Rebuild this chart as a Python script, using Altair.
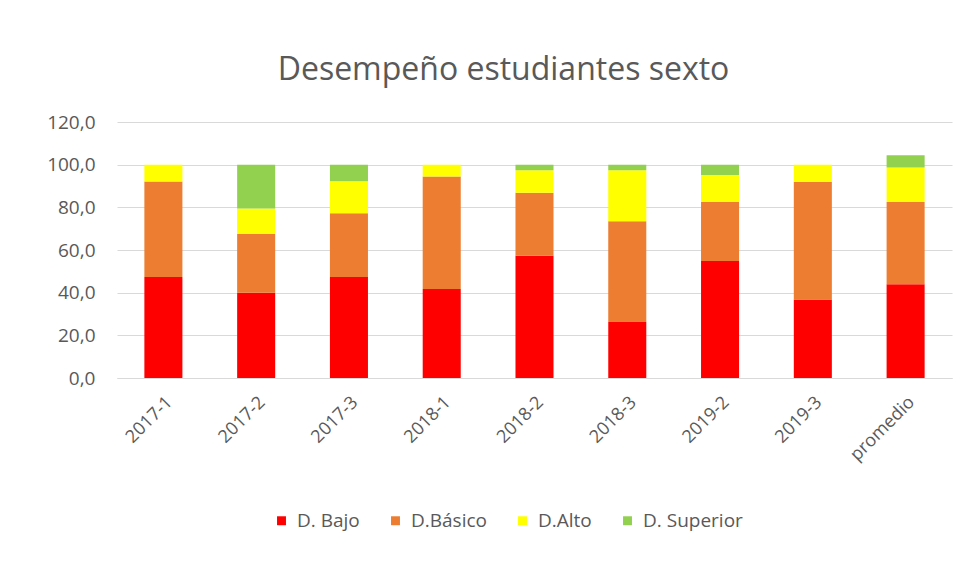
import altair as alt
import pandas as pd

categories = ["2017-1", "2017-2", "2017-3", "2018-1", "2018-2", "2018-3", "2019-2", "2019-3", "promedio"]
series = ["D. Bajo", "D.Básico", "D.Alto", "D. Superior"]
bajo = [47.4, 40.0, 47.4, 41.7, 57.3, 26.3, 54.8, 36.8, 43.9]
basico = [44.7, 27.5, 29.8, 52.8, 29.5, 47.2, 27.7, 55.2, 38.6]
alto = [7.9, 12.0, 15.0, 5.5, 10.6, 23.9, 12.7, 8.0, 16.2]
superior = [0.0, 20.5, 7.8, 0.0, 2.6, 2.6, 4.8, 0.0, 5.7]
colors = ["#FF0000", "#ED7D31", "#FFFF00", "#92D050"]

rows = []
for i, c in enumerate(categories):
    for k, (s, vals) in enumerate(zip(series, [bajo, basico, alto, superior])):
        rows.append({"periodo": c, "serie": s, "valor": vals[i], "orden": k})
df = pd.DataFrame(rows)

FONT = "Open Sans"
GRAY = "#595959"

chart = alt.Chart(df).mark_bar().encode(
    x=alt.X("periodo:N", sort=categories, title=None,
            scale=alt.Scale(paddingInner=0.59, paddingOuter=0.295),
            axis=alt.Axis(labelAngle=-45, labelFontSize=18, labelColor=GRAY, labelFont=FONT,
                          ticks=False, domainColor="#d9d9d9", labelPadding=15)),
    y=alt.Y("sum(valor):Q", title=None,
            scale=alt.Scale(domain=[0, 120], nice=False),
            axis=alt.Axis(values=[0, 20, 40, 60, 80, 100, 120], domain=False, ticks=False,
                          labelExpr="replace(format(datum.value, '.1f'), '.', ',')",
                          labelFontSize=19, labelColor=GRAY, labelFont=FONT, labelPadding=22,
                          gridColor="#d9d9d9")),
    color=alt.Color("serie:N", sort=series,
                    scale=alt.Scale(domain=series, range=colors),
                    legend=alt.Legend(title=None, orient="none", direction="horizontal",
                                      legendX=155, legendY=389, symbolType="square", symbolSize=80,
                                      symbolStrokeWidth=0, labelFontSize=19, labelColor=GRAY,
                                      labelFont=FONT, columnPadding=26, labelOffset=6)),
    order=alt.Order("orden:Q", sort="ascending"),
).properties(
    width=835, height=256,
    title=alt.TitleParams("Desempeño estudiantes sexto", font=FONT, fontSize=32, fontWeight="normal",
                          color=GRAY, anchor="middle", dx=-31, offset=26),
    autosize=alt.AutoSizeParams(type="none"),
    padding={"left": 109, "top": 114, "right": 18, "bottom": 170},
).configure(background="white").configure_view(stroke="transparent", strokeWidth=0)

chart.save("out.html", embed_options={"renderer": "svg", "actions": False})
